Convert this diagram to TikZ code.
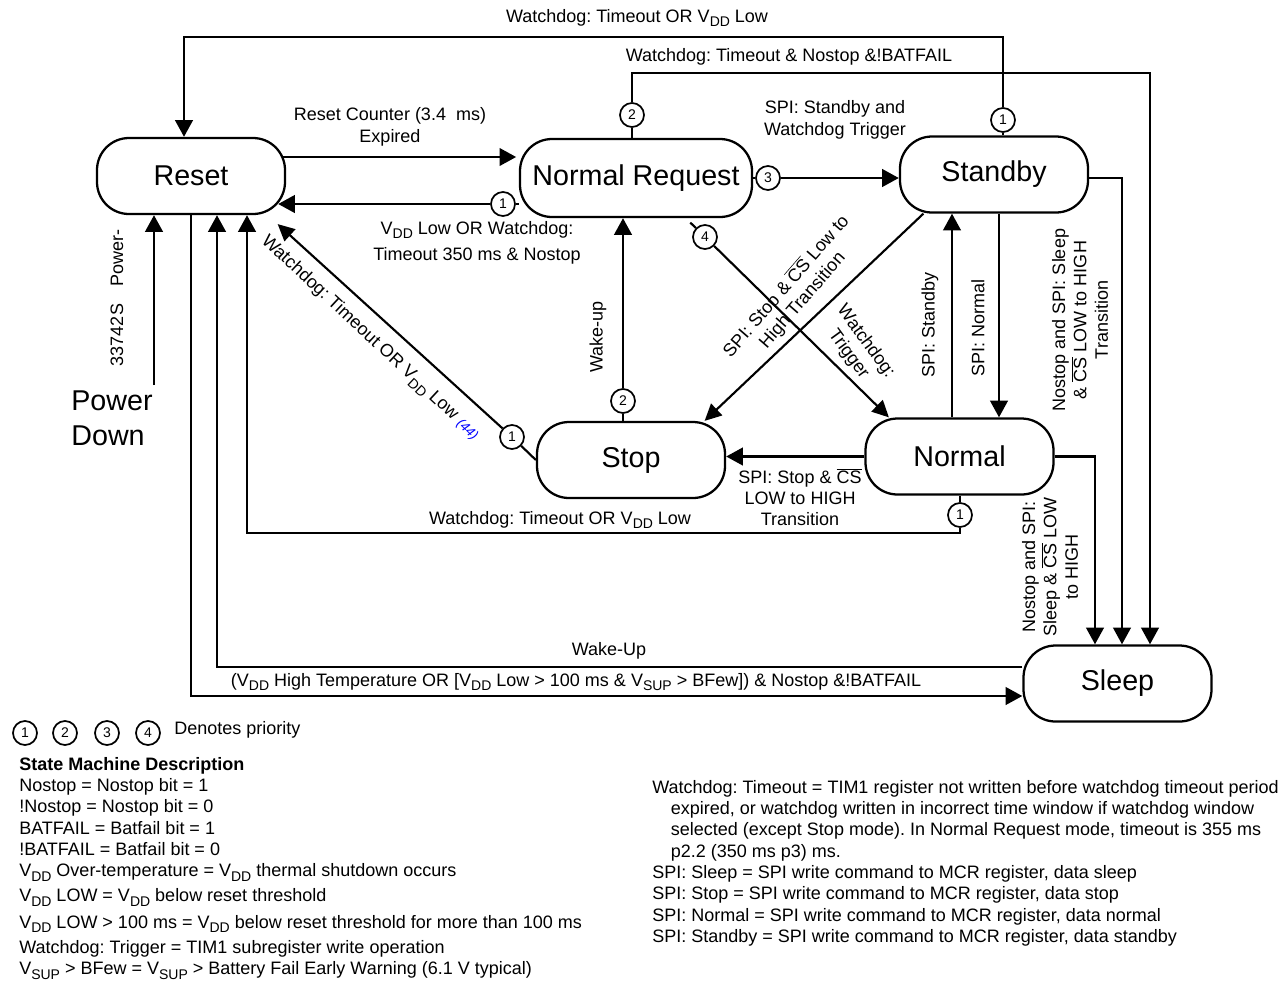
\documentclass[tikz,border=0pt]{standalone}
\usepackage{fontspec}
\setmainfont{Liberation Sans}
\usetikzlibrary{positioning,calc,backgrounds}
\usetikzlibrary{arrows.meta}

\frenchspacing
\newcommand\sub[1]{\raisebox{-0.25em}{\fontsize{10.5}{10}\selectfont #1}}
\newcommand\VDD{V\sub{DD}}
\newcommand\VSUP{V\sub{SUP}}
\newcommand\CSbar{$\overline{\hbox{CS}}$}
\newcommand\condfont{\fontsize{13.5}{16}\selectfont}
\newcommand\modefont{\fontsize{21.5}{26}\selectfont}

\tikzset{flowarrow/.style={-{Triangle[length=12.5pt, width=13pt]}, line width=2.2pt}}
\tikzset{flowline/.style={line width=2.2pt}}
\tikzset{diagarrow/.style={-{Triangle[length=12.5pt, width=12pt]}, line width=1.6pt}}
\tikzset{modebox/.style={draw, line width=1.7pt, fill=white, rounded corners=24pt, minimum width=141pt, minimum height=57pt, inner sep=0pt, font=\modefont}}
\tikzset{prio/.style={draw, circle, line width=1.3pt, fill=white, minimum size=18pt, inner sep=0pt, font=\fontsize{10.5}{12}\selectfont}}
\tikzset{cond/.style={font=\condfont, align=center, inner sep=0pt}}

\begin{document}
\begin{tikzpicture}[x=0.75pt, y=-0.75pt]
	\useasboundingbox (0,0) rectangle (1286,983);

	% MODES
	\node[modebox] (rst) at (191,176) {Reset};
	\node[modebox, minimum width=174pt, minimum height=58.5pt] (nrq) at (636,178) {Normal Request};
	\node[modebox] (stby) at (994,174.5) {Standby};
	\node[modebox] (stop) at (631,460) {Stop};
	\node[modebox] (norm) at (959.5,456.5) {Normal};
	\node[modebox] (slp) at (1117.5,683.5) {Sleep};
	\node[font=\modefont, align=left, inner sep=0pt] (pdown) at (112,418) {Power\\Down};

	% PRIORITIES
	\node[prio] (p1t) at (1003,120) {1};
	\node[prio] (p2n) at (632,115) {2};
	\node[prio] (p1r) at (503,204) {1};
	\node[prio] (p3)  at (768,178) {3};
	\node[prio] (p4)  at (705,237) {4};
	\node[prio] (p2s) at (623,401) {2};
	\node[prio] (p1s) at (512,437) {1};
	\node[prio] (p1n) at (960,515) {1};

	% routing points
	\coordinate (topA) at (184,37);
	\coordinate (topB) at (1150,73);
	\coordinate (yRN)  at (400,157);
	\coordinate (colSb) at (952,300);
	\coordinate (colNm) at (999,300);
	\coordinate (colA) at (1122,300);
	\coordinate (colB) at (1095,300);
	\coordinate (botA) at (247,533);
	\coordinate (botB) at (217,667);
	\coordinate (botC) at (191,696);
	\coordinate (pwr)  at (154,385);

	% TRANSITIONS
	\begin{scope}[on background layer]
		\draw[flowline]  (stby.north -| p1t) -- (p1t);
		\draw[flowarrow] (p1t) |- (topA) -- (topA |- rst.north);
		\draw[flowline]  (nrq.north -| p2n) -- (p2n);
		\draw[flowarrow] (p2n) |- (topB) -- (topB |- slp.north);

		\draw[flowarrow, shorten >=2pt] (yRN -| rst.center) -- (yRN -| nrq.west);
		\draw[flowline]  (p1r -| nrq.west) -- (p1r);
		\draw[flowarrow, shorten >=-6pt] (p1r) -- (p1r -| rst.east);
		\draw[flowline]  (nrq.east |- p3) -- (p3);
		\draw[flowarrow] (p3) -- (p3 -| stby.west);

		\draw[line width=1.6pt] (stop.west) -- (p1s);
		\draw[diagarrow, shorten >=10pt] (p1s) -- (rst.-27);
		\draw[diagarrow] (stby.209) -- (stop.28);
		\draw[line width=1.6pt] ($(p4)!-0.08!(norm.151)$) -- (p4);
		\draw[diagarrow] (p4) -- (norm.151);

		\draw[flowline]  (stop.north -| p2s) -- (p2s);
		\draw[flowarrow] (p2s) -- (p2s |- nrq.south);
		\draw[flowarrow] (norm.north -| colSb) -- (stby.south -| colSb);
		\draw[flowarrow] (stby.south -| colNm) -- (norm.north -| colNm);
		\draw[flowarrow] (p3 -| stby.east) -| (colA |- slp.north);
		\draw[flowarrow] (norm.east) -| (colB |- slp.north);
		\draw[flowarrow] (norm.west) -- (norm.west -| stop.east);

		\draw[flowline]  (norm.south -| p1n) -- (p1n);
		\draw[flowarrow] (p1n) |- (botA) -- (botA |- rst.south);
		\draw[flowarrow] (botB -| slp.west) -- (botB) -- (botB |- rst.south);
		\draw[flowarrow] (rst.south -| botC) -- (botC) -- (botC -| slp.west);
		\draw[flowarrow] (pwr) -- (pwr |- rst.south);
	\end{scope}

	% CONDITIONS
	\node[cond] (lTop)  at (637,18) {Watchdog: Timeout OR \VDD{} Low};
	\node[cond] (lTopB) at (789,57) {Watchdog: Timeout \& Nostop \&!BATFAIL};
	\node[cond] (lRC)   at (390,127) {Reset Counter (3.4\ \ ms)\\Expired};
	\node[cond] (lNRR)  at (477,243) {\VDD{} Low OR Watchdog:\\[4pt]Timeout 350 ms \& Nostop};
	\node[cond] (lSbT)  at (835,120) {SPI: Standby and\\Watchdog Trigger};
	\node[cond, rotate=-43] (lWd) at (370,338) {Watchdog: Timeout OR \VDD{} Low {\color{blue}\fontsize{10}{10}\selectfont\itshape (44)}};
	\node[cond, rotate=-54] (lWT) at (857,348) {Watchdog:\\Trigger};
	\node[cond, rotate=49]  (lSS) at (794,293) {SPI: Stop \& \CSbar{} Low to\\High Transition};
	\node[cond, rotate=90]  (lWU) at (598,337) {Wake-up};
	\node[cond, rotate=90]  (lSb) at (930,325) {SPI: Standby};
	\node[cond, rotate=90]  (lNm) at (978,328) {SPI: Normal};
	\node[cond, rotate=90]  (lSl1) at (1080,320) {Nostop and SPI: Sleep\\\& \CSbar{} LOW to HIGH\\Transition};
	\node[cond, rotate=90]  (lSl2) at (1050,567) {Nostop and SPI:\\Sleep \& \CSbar{} LOW\\to HIGH};
	\node[cond] (lNS)   at (800,497) {SPI: Stop \& \CSbar\\LOW to HIGH\\Transition};
	\node[cond] (lNR)   at (560,520) {Watchdog: Timeout OR \VDD{} Low};
	\node[cond] (lWk)   at (609,651) {Wake-Up};
	\node[cond] (lRS)   at (576,682) {(\VDD{} High Temperature OR [\VDD{} Low > 100 ms \& \VSUP{} > BFew]) \& Nostop \&!BATFAIL};
	\node[cond, rotate=90] (lPw)   at (117,258) {Power-};
	\node[cond, rotate=90] (lChip) at (117,335) {33742S};

	% LEGEND
	\foreach \i/\x in {1/25,2/65,3/107,4/148} {
		\node[prio] (leg\i) at (\x,733) {\i};
	}
	\node[cond, anchor=west] (legTxt) at (174,730) {Denotes priority};

	\node[cond, align=left, anchor=north west] (desc) at (19,757) {\textbf{State Machine Description}\\
		Nostop = Nostop bit = 1\\
		!Nostop = Nostop bit = 0\\
		BATFAIL = Batfail bit = 1\\
		!BATFAIL = Batfail bit = 0\\
		\VDD{} Over-temperature = \VDD{} thermal shutdown occurs\\[2.5pt]
		\VDD{} LOW = \VDD{} below reset threshold\\[4pt]
		\VDD{} LOW > 100 ms = \VDD{} below reset threshold for more than 100 ms\\[3pt]
		Watchdog: Trigger = TIM1 subregister write operation\\
		\VSUP{} > BFew = \VSUP{} > Battery Fail Early Warning (6.1 V typical)};

	\node[cond, align=left, anchor=north west] (descR) at (652,780) {Watchdog: Timeout = TIM1 register not written before watchdog timeout period\\
		\hspace*{14pt}expired, or watchdog written in incorrect time window if watchdog window\\
		\hspace*{14pt}selected (except Stop mode). In Normal Request mode, timeout is 355 ms\\
		\hspace*{14pt}p2.2 (350 ms p3) ms.\\
		SPI: Sleep = SPI write command to MCR register, data sleep\\
		SPI: Stop = SPI write command to MCR register, data stop\\
		SPI: Normal = SPI write command to MCR register, data normal\\
		SPI: Standby = SPI write command to MCR register, data standby};
\end{tikzpicture}
\end{document}
